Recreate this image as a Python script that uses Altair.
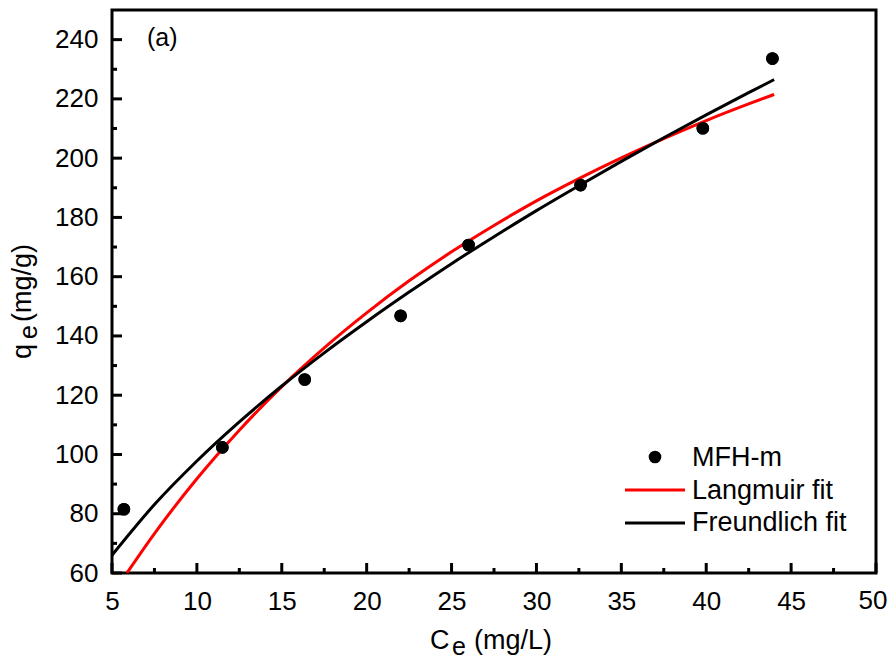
import altair as alt
import pandas as pd

# ---- data ----
ce_obs = [5.7, 11.5, 16.35, 22.0, 26.0, 32.6, 39.8, 43.9]
qe_obs = [81.5, 102.4, 125.3, 146.8, 170.7, 190.9, 210.1, 233.6]

lang_x = [5.88, 7.5, 10, 12.5, 15, 17.5, 20, 22.5, 25, 27.5, 30, 32.5, 35, 37.5, 40, 42.5, 44]
lang_y = [60.0, 73.3, 91.8, 108.2, 122.9, 136.0, 147.8, 158.6, 168.4, 177.3, 185.6, 193.1, 200.1, 206.6, 212.7, 218.3, 221.5]

freu_x = [5, 7.5, 10, 12.5, 15, 17.5, 20, 22.5, 25, 27.5, 30, 32.5, 35, 37.5, 40, 42.5, 44]
freu_y = [66.0, 83.1, 97.8, 111.0, 123.1, 134.3, 144.8, 154.8, 164.4, 173.5, 182.3, 190.7, 198.9, 206.9, 214.6, 222.1, 226.5]

x_major = [5, 10, 15, 20, 25, 30, 35, 40, 45, 50]
x_minor = [7.5, 12.5, 17.5, 22.5, 27.5, 32.5, 37.5, 42.5, 47.5]
y_major = [60, 80, 100, 120, 140, 160, 180, 200, 220, 240]
y_minor = [70, 90, 110, 130, 150, 170, 190, 210, 230]

legend_labels = ["MFH-m", "Langmuir fit", "Freundlich fit"]

W, H = 764, 563
FONT = "Liberation Sans"

xs = alt.Scale(domain=[5, 50], nice=False, zero=False)
ys = alt.Scale(domain=[60, 250], nice=False, zero=False)

xaxis = alt.Axis(values=x_major[:-1], grid=False, domain=False, ticks=False, tickSize=0,
                 labelFont=FONT, labelFontSize=26, labelColor="black", labelPadding=15,
                 title=None, labelFlush=False, labelOverlap=False)
yaxis = alt.Axis(values=y_major, grid=False, domain=False, ticks=False, tickSize=0,
                 labelFont=FONT, labelFontSize=26, labelColor="black", labelPadding=14,
                 title=None, labelOverlap=False)

pts_df = pd.DataFrame({"x": ce_obs, "y": qe_obs})
lang_df = pd.DataFrame({"x": lang_x, "y": lang_y})
freu_df = pd.DataFrame({"x": freu_x, "y": freu_y})

points = alt.Chart(pts_df).mark_circle(size=160, color="black", opacity=1).encode(
    x=alt.X("x:Q", scale=xs, axis=xaxis),
    y=alt.Y("y:Q", scale=ys, axis=yaxis),
)

# last x label, nudged left so it stays inside the page
last_lab = alt.Chart(pd.DataFrame({"v": x_major[-1:]})).mark_text(
    font=FONT, fontSize=26, color="black", align="center", baseline="top", dx=-3).encode(
    x=alt.X("v:Q", scale=xs), y=alt.value(H + 15), text="v:Q")

lang = alt.Chart(lang_df).mark_line(color="#ff0000", strokeWidth=3, interpolate="monotone", clip=True).encode(
    x=alt.X("x:Q", scale=xs), y=alt.Y("y:Q", scale=ys))
freu = alt.Chart(freu_df).mark_line(color="black", strokeWidth=3, interpolate="monotone", clip=True).encode(
    x=alt.X("x:Q", scale=xs), y=alt.Y("y:Q", scale=ys))

# inward ticks
xmaj = alt.Chart(pd.DataFrame({"v": x_major})).mark_rule(color="black", strokeWidth=3).encode(
    x=alt.X("v:Q", scale=xs), y=alt.value(H), y2=alt.value(H - 10))
xmin = alt.Chart(pd.DataFrame({"v": x_minor})).mark_rule(color="black", strokeWidth=3).encode(
    x=alt.X("v:Q", scale=xs), y=alt.value(H), y2=alt.value(H - 5))
ymaj = alt.Chart(pd.DataFrame({"v": y_major})).mark_rule(color="black", strokeWidth=3).encode(
    y=alt.Y("v:Q", scale=ys), x=alt.value(0), x2=alt.value(10))
ymin = alt.Chart(pd.DataFrame({"v": y_minor})).mark_rule(color="black", strokeWidth=3).encode(
    y=alt.Y("v:Q", scale=ys), x=alt.value(0), x2=alt.value(5))

def txt(t, x, y, size, align="left", baseline="alphabetic", angle=0):
    kw = dict(font=FONT, fontSize=size, color="black", align=align, baseline=baseline)
    if angle:
        kw["angle"] = angle
    return alt.Chart(pd.DataFrame({"t": [t]})).mark_text(**kw).encode(
        x=alt.value(x), y=alt.value(y), text="t:N")

panel = txt("(a)", 35, 28, 25, baseline="middle")

# x title  C_e (mg/L)
xt1 = txt("C", 318, 639, 27)
xt2 = txt("e", 340, 645, 25)
xt3 = txt("(mg/L)", 362, 639, 27)

# y title  q_e (mg/g)  (rotated)
yt1 = txt("q", -81, 349, 27, angle=270)
yt2 = txt("e", -75, 329, 25, angle=270)
yt3 = txt("(mg/g)", -81, 312, 27, angle=270)

# legend
leg_dot = alt.Chart(pd.DataFrame({"a": [0]})).mark_circle(size=160, color="black", opacity=1).encode(
    x=alt.value(543), y=alt.value(447))
leg_red = alt.Chart(pd.DataFrame({"a": [0]})).mark_rule(color="#ff0000", strokeWidth=3).encode(
    x=alt.value(513), x2=alt.value(573), y=alt.value(480))
leg_blk = alt.Chart(pd.DataFrame({"a": [0]})).mark_rule(color="black", strokeWidth=3).encode(
    x=alt.value(513), x2=alt.value(573), y=alt.value(513))
lt1 = txt(legend_labels[0], 580, 448, 27, baseline="middle")
lt2 = txt(legend_labels[1], 580, 481, 27, baseline="middle")
lt3 = txt(legend_labels[2], 580, 513, 27, baseline="middle")

chart = alt.layer(
    points, last_lab, xmaj, xmin, ymaj, ymin, lang, freu, points,
    panel, xt1, xt2, xt3, yt1, yt2, yt3,
    leg_dot, leg_red, leg_blk, lt1, lt2, lt3,
).properties(
    width=W, height=H,
    autosize=alt.AutoSizeParams(type="none"),
    padding={"left": 104, "top": 2, "right": 11, "bottom": 87},
    background="white",
).configure_view(stroke="black", strokeWidth=3)

chart.save("out.html", embed_options={"renderer": "svg", "actions": False})
